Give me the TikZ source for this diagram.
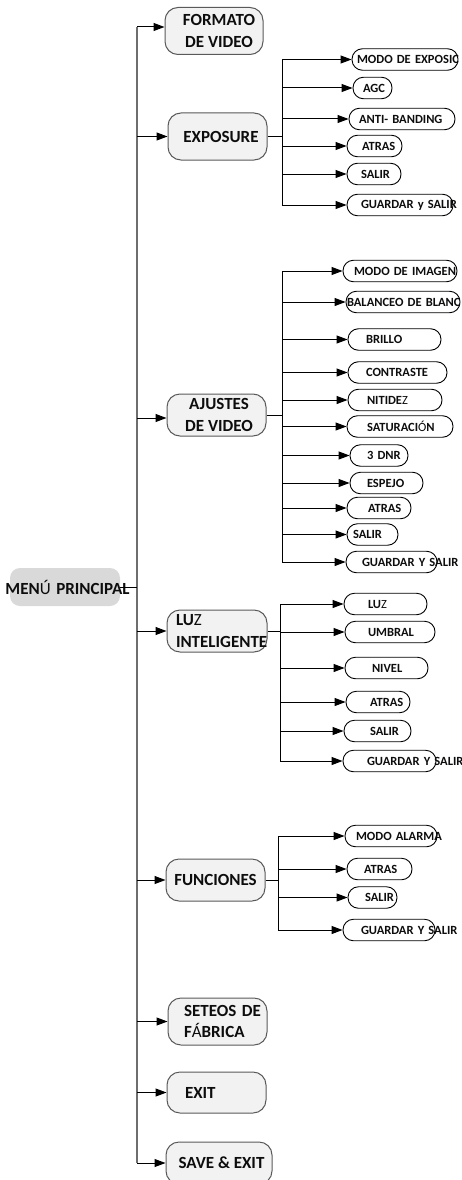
\documentclass[tikz,border=0pt]{standalone}
\usepackage{fontspec}
\setmainfont{Carlito}
\usetikzlibrary{arrows.meta}
\definecolor{ink}{HTML}{0D0D0D}
\definecolor{boxfill}{HTML}{F2F2F2}
\definecolor{boxline}{HTML}{5A5A5A}
\definecolor{menufill}{HTML}{D9D9D9}
\definecolor{trunkline}{HTML}{6E6E6E}
\tikzset{
  mainbox/.style={draw=boxline, line width=1pt, fill=boxfill, rounded corners=13pt,
    text=ink, font=\fontsize{17}{21.5}\selectfont\bfseries, inner ysep=0pt},
  subbox/.style 2 args={draw=black, line width=0.9pt, fill=white, rounded corners=10.5pt,
    minimum height=21.5pt, inner ysep=0pt, inner xsep=#1, text width=#2, align=left,
    text=ink, font=\fontsize{12.5}{15}\selectfont\bfseries},
  link/.style={line width=1pt, draw=black},
  arr/.style={link, -{Triangle[length=11pt,width=8pt]}},
  trunk/.style={line width=1.5pt, draw=trunkline},
}
\begin{document}
\begin{tikzpicture}[x=1pt, y=-1pt]
\fill[white] (0,0) rectangle (462,1180);
\useasboundingbox (0,0) rectangle (462,1180);

% root
\node[fill=menufill, rounded corners=10pt, minimum height=38pt, inner xsep=0pt,
      text width=110pt, align=center, text=ink,
      font=\fontsize{17}{21}\selectfont\bfseries] (menu) at (65,587)
      {\makebox[110pt]{\hspace{5pt}MEN\textmd{Ú} PRINCIPAL}};

% first level
\node[mainbox, minimum width=98pt, minimum height=47pt, align=center] (fmt) at (214,31)
      {\hspace*{10pt}FORMATO\\\hspace*{10pt}DE VIDEO};
\node[mainbox, minimum width=99pt, minimum height=47pt] (exp) at (217.5,136.5)
      {\hspace*{7pt}EXPOSURE};
\node[mainbox, minimum width=99pt, minimum height=42pt, align=center] (ajv) at (216.5,415)
      {\hspace*{5pt}AJUSTES\\\hspace*{5pt}DE VIDEO};
\node[mainbox, minimum width=100pt, minimum height=42pt, inner xsep=9pt, text width=82pt,
      align=left] (luz) at (217,631)
      {\mbox{LU\textmd{Z}}\\\mbox{INTELIGENTE}};
\node[mainbox, minimum width=99pt, minimum height=42pt] (fun) at (215.5,880) {FUNCIONES};
\node[mainbox, minimum width=99pt, minimum height=47pt, inner xsep=16pt, text width=67pt,
      align=left] (set) at (217.5,1021.5)
      {\mbox{SETEOS DE}\\\mbox{F\textmd{Á}BRICA}};
\node[mainbox, minimum width=99pt, minimum height=41pt, inner xsep=18pt, text width=63pt,
      align=left] (exit) at (216.5,1092.5) {EXIT};
\node[mainbox, minimum width=106pt, minimum height=42pt] (save) at (219,1163)
      {\hspace*{5pt}SAVE \& EXIT};

% EXPOSURE items
\node[subbox={5pt}{96pt}]  (e1) at (405,59.5) {\mbox{MODO DE EXPOSIC}};
\node[subbox={10pt}{19pt}] (e2) at (372.5,88) {\mbox{AGC}};
\node[subbox={10pt}{86pt}] (e3) at (402,119) {\mbox{ANTI- BANDING}};
\node[subbox={15pt}{25pt}] (e4) at (374.5,146) {\mbox{ATRAS}};
\node[subbox={14pt}{26pt}] (e5) at (374,174) {\mbox{SALIR}};
\node[subbox={14pt}{78pt}] (e6) at (400,205) {\mbox{GUARDAR y SALIR}};

% AJUSTES DE VIDEO items
\node[subbox={11pt}{92pt}] (a1) at (400,271) {\mbox{MODO DE IMAGEN}};
\node[subbox={1pt}{112pt}] (a2) at (403,302) {\mbox{BALANCEO DE BLANC}};
\node[subbox={18pt}{57pt}] (a3) at (394.5,339.5) {\mbox{BRILLO}};
\node[subbox={18pt}{63pt}] (a4) at (397.5,372.5) {\mbox{CONTRASTE}};
\node[subbox={19pt}{56pt}] (a5) at (395,400) {\mbox{NITIDE\textmd{Z}}};
\node[subbox={20pt}{66pt}] (a6) at (400,426.5) {\mbox{SATURACI\textmd{Ó}N}};
\node[subbox={17pt}{24pt}] (a7) at (379,455.5) {\mbox{3 DNR}};
\node[subbox={17pt}{39pt}] (a8) at (386.5,483) {\mbox{ESPEJO}};
\node[subbox={21pt}{22pt}] (a9) at (379,508) {\mbox{ATRAS}};
\node[subbox={6pt}{39pt}]  (a10) at (372.5,534.5) {\mbox{SALIR}};
\node[subbox={16pt}{59pt}] (a11) at (391.5,562) {\mbox{GUARDAR Y SALIR}};

% LUZ INTELIGENTE items
\node[subbox={24pt}{35pt}] (l1) at (385.5,604) {\mbox{LU\textmd{Z}}};
\node[subbox={23pt}{44pt}] (l2) at (390,632) {\mbox{UMBRAL}};
\node[subbox={27pt}{29pt}] (l3) at (386.5,668) {\mbox{NIVEL}};
\node[subbox={24pt}{16pt}] (l4) at (378,702) {\mbox{ATRAS}};
\node[subbox={26pt}{15pt}] (l5) at (377.5,731) {\mbox{SALIR}};
\node[subbox={24pt}{45pt}] (l6) at (389.5,761) {\mbox{GUARDAR Y SALIR}};

% FUNCIONES items
\node[subbox={11pt}{70pt}] (f1) at (391,836) {\mbox{MODO ALARMA}};
\node[subbox={17pt}{31pt}] (f2) at (379.5,869) {\mbox{ATRAS}};
\node[subbox={17pt}{15pt}] (f3) at (372.5,897.5) {\mbox{SALIR}};
\node[subbox={18pt}{56pt}] (f4) at (389,930) {\mbox{GUARDAR Y SALIR}};

% bus positions
\coordinate (tr) at (137,0);
\coordinate (eb) at (282,0);
\coordinate (ab) at (282,0);
\coordinate (lb) at (280,0);
\coordinate (fb) at (278,0);

% main trunk
\draw[trunk] (tr |- fmt.west) ++(0,-4) -- (tr |- save.west);
\draw[link] (menu.east) -- (tr |- menu.east);
\foreach \n/\dy in {fmt/-4, exp/0, ajv/3, luz/0, fun/0, set/0, exit/0, save/0}
  \draw[arr] ([yshift=\dy*-1pt]tr |- \n.west) -- ([yshift=\dy*-1pt]\n.west);

% EXPOSURE branch
\draw[link] (exp.east) -- (eb |- exp.east);
\draw[link] (eb |- e1.west) -- (eb |- e6.west);
\foreach \n in {e1,e2,e3,e4,e5,e6}
  \draw[arr] (eb |- \n.west) -- (\n.west);

% AJUSTES DE VIDEO branch
\draw[link] (ajv.east) -- (ab |- ajv.east);
\draw[link] (ab |- a1.west) -- (ab |- a11.west);
\foreach \n in {a1,a2,a3,a4,a5,a6,a7,a8,a9,a10,a11}
  \draw[arr] (ab |- \n.west) -- (\n.west);

% LUZ INTELIGENTE branch
\draw[link] (luz.east) -- (lb |- luz.east);
\draw[link] (lb |- l1.west) -- (lb |- l6.west);
\foreach \n in {l1,l2,l3,l4,l5,l6}
  \draw[arr] (lb |- \n.west) -- (\n.west);

% FUNCIONES branch
\draw[link] (fun.east) -- (fb |- fun.east);
\draw[link] (fb |- f1.west) -- (fb |- f4.west);
\foreach \n in {f1,f2,f3,f4}
  \draw[arr] (fb |- \n.west) -- (\n.west);
\end{tikzpicture}
\end{document}
